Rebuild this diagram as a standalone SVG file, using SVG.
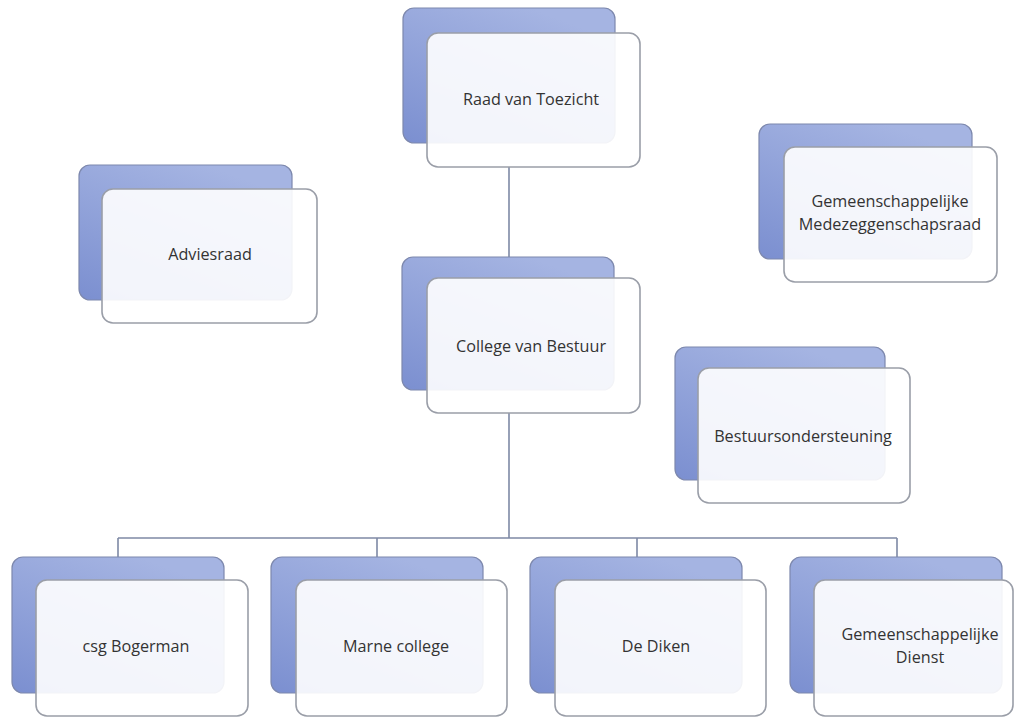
<svg xmlns="http://www.w3.org/2000/svg" width="1016" height="719" viewBox="0 0 1016 719">
<defs>
<linearGradient id="blue" x1="0" y1="1" x2="0.6" y2="0">
<stop offset="0" stop-color="#7b8fd0"/>
<stop offset="1" stop-color="#a5b4e2"/>
</linearGradient>
<style>
.back{fill:url(#blue);stroke:#7d88ad;stroke-width:1.2}
.front{fill:#ffffff;fill-opacity:0.9;stroke:#9a9ea8;stroke-width:1.6}
.lbl{font-family:"Open Sans","Liberation Sans",sans-serif;font-size:16.2px;fill:#333333;text-anchor:middle}
.conn{fill:none;stroke:#7e89a5;stroke-width:1.6}
</style>
</defs>
<rect width="1016" height="719" fill="#ffffff"/>
<g id="connectors">
<path class="conn" d="M509 167 V278"/>
<path class="conn" d="M509 413 V538"/>
<path class="conn" d="M118 538 H897"/>
<path class="conn" d="M118 538 V557 M377 538 V557 M637 538 V557 M897 538 V557"/>
</g>
<g id="raad">
<rect class="back" x="403" y="8" width="212" height="135" rx="11"/>
<rect class="front" x="427" y="33" width="213" height="134" rx="11"/>
<text class="lbl" x="531" y="105">Raad van Toezicht</text>
</g>
<g id="adviesraad">
<rect class="back" x="79" y="165" width="213" height="135" rx="11"/>
<rect class="front" x="102" y="189" width="215" height="134" rx="11"/>
<text class="lbl" x="210" y="260">Adviesraad</text>
</g>
<g id="gmr">
<rect class="back" x="759" y="124" width="213" height="135" rx="11"/>
<rect class="front" x="784" y="147" width="213" height="135" rx="11"/>
<text class="lbl" x="890" y="207">Gemeenschappelijke</text>
<text class="lbl" x="890" y="230">Medezeggenschapsraad</text>
</g>
<g id="cvb">
<rect class="back" x="402" y="257" width="212" height="133" rx="11"/>
<rect class="front" x="427" y="278" width="213" height="135" rx="11"/>
<text class="lbl" x="531" y="352">College van Bestuur</text>
</g>
<g id="bestuursondersteuning">
<rect class="back" x="675" y="347" width="210" height="133" rx="11"/>
<rect class="front" x="698" y="368" width="212" height="135" rx="11"/>
<text class="lbl" x="803" y="442">Bestuursondersteuning</text>
</g>
<g id="bogerman">
<rect class="back" x="12" y="557" width="212" height="136" rx="11"/>
<rect class="front" x="36" y="580" width="212" height="136" rx="11"/>
<text class="lbl" x="136" y="652">csg Bogerman</text>
</g>
<g id="marne">
<rect class="back" x="271" y="557" width="212" height="136" rx="11"/>
<rect class="front" x="296" y="580" width="211" height="136" rx="11"/>
<text class="lbl" x="396" y="652">Marne college</text>
</g>
<g id="dediken">
<rect class="back" x="530" y="557" width="212" height="136" rx="11"/>
<rect class="front" x="555" y="580" width="211" height="136" rx="11"/>
<text class="lbl" x="656" y="652">De Diken</text>
</g>
<g id="dienst">
<rect class="back" x="790" y="557" width="212" height="136" rx="11"/>
<rect class="front" x="814" y="580" width="199" height="136" rx="11"/>
<text class="lbl" x="920" y="640">Gemeenschappelijke</text>
<text class="lbl" x="920" y="663">Dienst</text>
</g>
</svg>
